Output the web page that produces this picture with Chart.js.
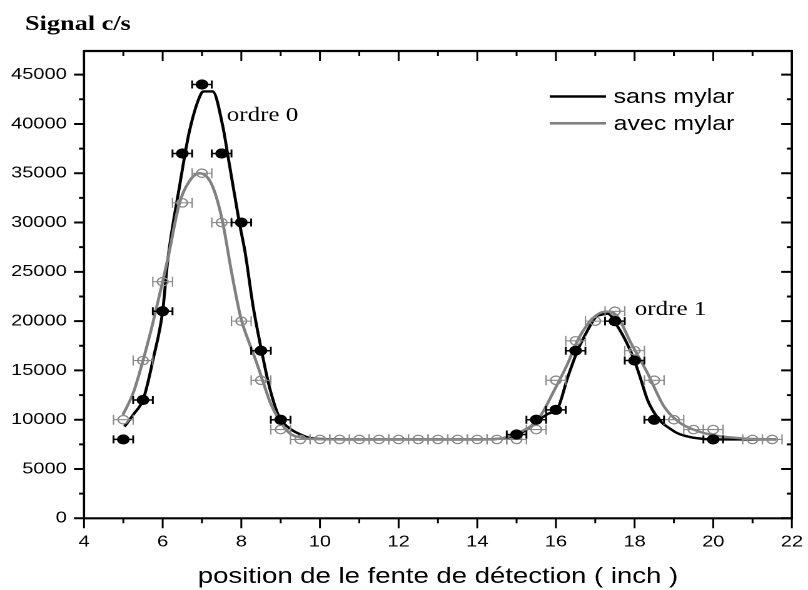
<!DOCTYPE html>
<html>
<head>
<meta charset="utf-8">
<script src="https://cdn.jsdelivr.net/npm/chart.js@4.4.1/dist/chart.umd.min.js"></script>
<style>
html,body{margin:0;padding:0;background:#fff;overflow:hidden}
#wrap{width:646px;height:590px;transform:scaleX(1.25077);transform-origin:0 0}
#c{width:646px;height:590px;display:block}
</style>
</head>
<body>
<div id="wrap"><canvas id="c" width="646" height="590"></canvas></div>
<script>
// ---- measured points (position in inch, signal c/s) ----
const sansX = [5, 5.5, 6, 6.5, 7, 7.5, 8, 8.5, 9, 15, 15.5, 16, 16.5, 17.5, 18, 18.5, 20];
const sansY = [8000, 12000, 21000, 37000, 44000, 37000, 30000, 17000, 10000, 8500, 10000, 11000, 17000, 20000, 16000, 10000, 8000];

const avecX = [5, 5.5, 6, 6.5, 7, 7.5, 8, 8.5, 9, 9.5, 10, 10.5, 11, 11.5, 12, 12.5, 13, 13.5, 14, 14.5,
               15, 15.5, 16, 16.5, 17, 17.5, 18, 18.5, 19, 19.5, 20, 21, 21.5];
const avecY = [10000, 16000, 24000, 32000, 35000, 30000, 20000, 14000, 9000, 8000, 8000, 8000, 8000, 8000, 8000, 8000, 8000, 8000, 8000, 8000,
               8000, 9000, 14000, 18000, 20000, 21000, 17000, 14000, 10000, 9000, 9000, 8000, 8000];

const xError = 0.25; // horizontal error bar half-width (inch)

// ---- fitted curves ----
const sansFitX = [5.03, 5.25, 5.5, 5.62, 5.75, 6.0, 6.13, 6.43, 6.68, 6.98, 7.05, 7.27, 7.53, 7.65, 7.95, 8.1, 8.3, 8.51, 8.71, 8.96, 9.2, 9.4, 9.7, 10.0, 11, 12, 13, 14, 14.5, 14.8, 15.0, 15.25, 15.54, 15.8, 16.05, 16.3, 16.56, 16.81, 17.02, 17.15, 17.32, 17.57, 17.8, 17.99, 18.15, 18.33, 18.5, 18.67, 18.9, 19.09, 19.4, 19.76, 20.2, 21, 21.6];
const sansFitY = [9300, 10500, 12000, 13700, 16000, 21000, 26200, 33700, 39250, 43100, 43300, 43300, 39750, 37000, 30000, 26900, 21500, 17100, 13400, 10300, 9200, 8700, 8200, 8050, 8000, 8000, 8000, 8000, 8050, 8200, 8400, 9000, 9900, 10600, 11200, 14300, 17100, 19100, 20450, 20650, 20750, 19450, 17800, 16070, 14200, 12000, 10700, 9800, 9100, 8630, 8250, 8050, 8000, 8000, 8000];

const avecFitX = [4.99, 5.25, 5.5, 5.75, 6.0, 6.13, 6.43, 6.68, 6.94, 7.19, 7.36, 7.53, 7.75, 7.99, 8.2, 8.37, 8.54, 8.75, 8.96, 9.22, 9.5, 9.8, 10.5, 11.5, 12.5, 13.5, 14.5, 14.8, 15.12, 15.54, 15.96, 16.3, 16.56, 16.94, 17.27, 17.53, 17.91, 18.33, 18.75, 19.17, 19.5, 19.76, 20.2, 20.6, 21.0, 21.6];
const avecFitY = [10500, 12700, 16000, 19800, 24000, 26300, 32000, 34200, 35000, 34300, 32650, 29950, 25000, 20300, 17800, 16000, 14000, 11600, 10000, 8650, 8200, 8050, 8000, 8000, 8000, 8000, 8050, 8300, 8800, 10000, 13000, 15700, 18100, 20300, 20970, 20640, 17760, 14720, 11330, 9640, 9000, 8650, 8300, 8150, 8050, 8000];

// ---- axes ----
const xTicks = [4, 6, 8, 10, 12, 14, 16, 18, 20, 22];
const xMinorTicks = [5, 7, 9, 11, 13, 15, 17, 19, 21];
const yTicks = [0, 5000, 10000, 15000, 20000, 25000, 30000, 35000, 40000, 45000];
const yMinorTicks = [2500, 7500, 12500, 17500, 22500, 27500, 32500, 37500, 42500];
const xMin = 4, xMax = 22;
const yMin = 0, yMax = 47400;

const seriesNames = ['sans mylar', 'avec mylar'];
const peakLabels = ['ordre 0', 'ordre 1'];
const yAxisTitle = 'Signal c/s';
const xAxisTitle = 'position de le fente de détection ( inch )';

const toPts = (xs, ys) => xs.map((v, i) => ({x: v, y: ys[i]}));

const errorBarPlugin = {
  id: 'errorBars',
  beforeDatasetDraw(chart, args) {
    const ds = chart.data.datasets[args.index];
    if (!ds.errBar) return;
    const {ctx, scales: {x, y}, chartArea: a} = chart;
    ctx.save();
    ctx.beginPath();
    ctx.rect(a.left, a.top, a.right - a.left, a.bottom - a.top);
    ctx.clip();
    ctx.strokeStyle = ds.errBar.color;
    ctx.lineWidth = ds.errBar.width;
    const cap = ds.errBar.cap;
    ds.data.forEach(p => {
      const x0 = x.getPixelForValue(p.x - xError);
      const x1 = x.getPixelForValue(p.x + xError);
      const py = y.getPixelForValue(p.y);
      ctx.beginPath();
      ctx.moveTo(x0, py); ctx.lineTo(x1, py);
      ctx.moveTo(x0, py - cap); ctx.lineTo(x0, py + cap);
      ctx.moveTo(x1, py - cap); ctx.lineTo(x1, py + cap);
      ctx.stroke();
    });
    ctx.restore();
  }
};

const framePlugin = {
  id: 'frame',
  afterDraw(chart) {
    const {ctx, chartArea: a, scales: {x, y}} = chart;
    ctx.save();
    ctx.strokeStyle = '#000';
    // x ticks (outward at bottom, inward at top)
    ctx.lineWidth = 1.5;
    const xt = (v, len) => {
      const px = x.getPixelForValue(v);
      ctx.beginPath();
      ctx.moveTo(px, a.bottom); ctx.lineTo(px, a.bottom + len);
      ctx.moveTo(px, a.top); ctx.lineTo(px, a.top + len);
      ctx.stroke();
    };
    xTicks.forEach(v => xt(v, 10));
    xMinorTicks.forEach(v => xt(v, 5));
    // y ticks (outward at left, inward at right)
    ctx.lineWidth = 2;
    const yt = (v, lenL, lenR) => {
      const py = y.getPixelForValue(v);
      ctx.beginPath();
      ctx.moveTo(a.left - lenL, py); ctx.lineTo(a.left, py);
      ctx.moveTo(a.right - lenR, py); ctx.lineTo(a.right, py);
      ctx.stroke();
    };
    yTicks.forEach(v => yt(v, 8, 8.5));
    yMinorTicks.forEach(v => yt(v, 4, 4));
    // frame
    ctx.lineWidth = 2.2;
    ctx.beginPath();
    ctx.moveTo(a.left, a.top); ctx.lineTo(a.right, a.top);
    ctx.moveTo(a.left, a.bottom); ctx.lineTo(a.right, a.bottom);
    ctx.stroke();
    ctx.lineWidth = 1.8;
    ctx.beginPath();
    ctx.moveTo(a.left, a.top - 1); ctx.lineTo(a.left, a.bottom + 1);
    ctx.moveTo(a.right, a.top - 1); ctx.lineTo(a.right, a.bottom + 1);
    ctx.stroke();

    // y axis title
    ctx.fillStyle = '#000';
    ctx.textAlign = 'left';
    ctx.textBaseline = 'alphabetic';
    ctx.font = 'bold 21px "Liberation Serif"';
    ctx.fillText(yAxisTitle, 20, 30);

    // peak labels
    ctx.font = '20px "Liberation Serif"';
    ctx.fillText(peakLabels[0], 181.3, 121);
    ctx.fillText(peakLabels[1], 507.5, 315);

    // legend
    const ly = [96.5, 123.3];
    const cols = ['#000', '#808080'];
    ctx.font = '20px "Liberation Sans"';
    ctx.textBaseline = 'middle';
    for (let i = 0; i < 2; i++) {
      ctx.strokeStyle = cols[i];
      ctx.lineWidth = 2.6;
      ctx.beginPath();
      ctx.moveTo(439.5, ly[i]); ctx.lineTo(484.5, ly[i]);
      ctx.stroke();
      ctx.fillStyle = '#000';
      ctx.fillText(seriesNames[i], 490.5, ly[i] + 1);
    }
    ctx.restore();
  }
};

new Chart(document.getElementById('c'), {
  type: 'scatter',
  data: {
    datasets: [
      {
        label: seriesNames[0] + ' (mesures)',
        data: toPts(sansX, sansY),
        showLine: false,
        pointRadius: 4.6,
        pointBackgroundColor: '#000',
        pointBorderColor: '#000',
        pointBorderWidth: 1,
        errBar: {color: '#000', width: 1.5, cap: 4}
      },
      {
        label: seriesNames[1] + ' (mesures)',
        data: toPts(avecX, avecY),
        showLine: false,
        pointRadius: 4.2,
        pointBackgroundColor: 'rgba(255,255,255,0)',
        pointBorderColor: '#8a8a8a',
        pointBorderWidth: 1.3,
        errBar: {color: '#8a8a8a', width: 1.1, cap: 5}
      },
      {
        label: seriesNames[1],
        data: toPts(avecFitX, avecFitY),
        showLine: true,
        borderColor: '#808080',
        borderWidth: 2.4,
        pointRadius: 0,
        cubicInterpolationMode: 'monotone'
      },
      {
        label: seriesNames[0],
        data: toPts(sansFitX, sansFitY),
        showLine: true,
        borderColor: '#000',
        borderWidth: 2.4,
        pointRadius: 0,
        cubicInterpolationMode: 'monotone'
      }
    ]
  },
  options: {
    responsive: false,
    devicePixelRatio: 2,
    animation: false,
    layout: {padding: {top: 51, right: 10.4, bottom: 0, left: 0}},
    plugins: {legend: {display: false}, tooltip: {enabled: false}},
    scales: {
      x: {
        type: 'linear',
        min: xMin, max: xMax,
        grid: {display: false, drawTicks: true, tickLength: 10},
        border: {display: false},
        afterBuildTicks(s) { s.ticks = xTicks.map(v => ({value: v})); },
        ticks: {
          color: '#000',
          font: {family: 'Liberation Sans', size: 16},
          padding: 4,
          autoSkip: false,
          maxRotation: 0,
          callback: v => String(v)
        },
        title: {
          display: true,
          text: xAxisTitle,
          color: '#000',
          font: {family: 'Liberation Sans', size: 22},
          padding: {top: 0, bottom: 0}
        },
        afterFit(s) { s.height = 71.7; }
      },
      y: {
        type: 'linear',
        min: yMin, max: yMax,
        grid: {display: false, drawTicks: true, tickLength: 8},
        border: {display: false},
        afterBuildTicks(s) { s.ticks = yTicks.map(v => ({value: v})); },
        ticks: {
          color: '#000',
          font: {family: 'Liberation Sans', size: 16},
          padding: 5.8,
          autoSkip: false,
          callback: v => String(v)
        },
        afterFit(s) { s.width = 67.16; }
      }
    }
  },
  plugins: [errorBarPlugin, framePlugin]
});
</script>
</body>
</html>
